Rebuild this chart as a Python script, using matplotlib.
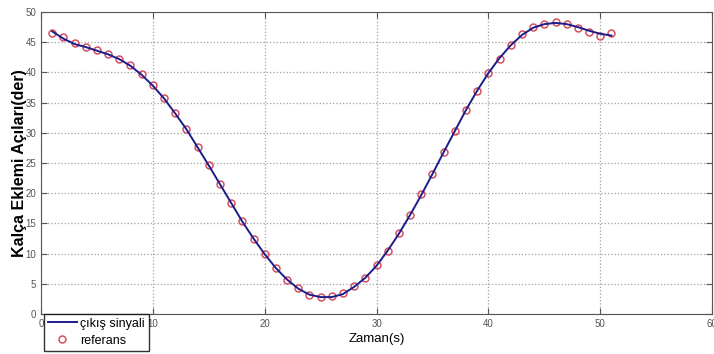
import matplotlib.pyplot as plt
import numpy as np

plt.rcParams['font.family'] = ['Liberation Sans', 'DejaVu Sans']

# reference samples (circles)
t_ref = np.arange(1, 52)
ref = [46.6, 45.8, 44.8, 44.2, 43.7, 43.0, 42.3, 41.2, 39.7, 37.9,
       35.8, 33.3, 30.7, 27.6, 24.7, 21.6, 18.4, 15.4, 12.5, 9.9,
       7.6, 5.7, 4.3, 3.2, 2.8, 2.9, 3.4, 4.6, 6.0, 8.1,
       10.5, 13.4, 16.4, 19.8, 23.2, 26.8, 30.3, 33.8, 37.0, 39.9,
       42.3, 44.5, 46.3, 47.5, 48.1, 48.3, 48.0, 47.4, 46.7, 46.1,
       46.5]

# output signal (line)
t_out = np.arange(1, 52)
out = [46.8, 45.6, 44.7, 44.2, 43.6, 43.0, 42.2, 41.1, 39.6, 37.8,
       35.7, 33.2, 30.6, 27.6, 24.6, 21.5, 18.4, 15.3, 12.5, 9.9,
       7.6, 5.7, 4.2, 3.2, 2.8, 2.8, 3.3, 4.5, 6.0, 8.0,
       10.5, 13.3, 16.4, 19.7, 23.2, 26.8, 30.3, 33.8, 37.0, 39.9,
       42.4, 44.5, 46.2, 47.4, 48.0, 48.2, 48.0, 47.5, 46.9, 46.4,
       46.1]

fig = plt.figure(figsize=(7.14, 3.54), dpi=100)
ax = fig.add_axes([0.0574, 0.113, 0.94, 0.853])

ax.plot(t_ref, ref, 'o', ms=5, mfc='none', mec='#d45060', mew=1.1,
        label='referans', zorder=2)
ax.plot(t_out, out, '-', color='#1c1c8a', lw=1.4, label='çıkış sinyali',
        zorder=3)

ax.set_xlim(0, 60)
ax.set_ylim(0, 50)
ax.set_xticks(np.arange(0, 61, 10))
ax.set_yticks(np.arange(0, 51, 5))
ax.grid(True, ls=':', color='#a0a0a0', lw=0.9)
ax.tick_params(direction='in', labelsize=7, colors='#555555', length=4,
               right=True, top=True)
for s in ax.spines.values():
    s.set_color('#555555')

ax.set_xlabel('Zaman(s)', fontsize=9.5, labelpad=3)
ax.set_ylabel('Kalça Eklemi Açıları(der)', fontsize=11.5, fontweight='bold',
              labelpad=-1)

h, l = ax.get_legend_handles_labels()
leg = ax.legend([h[1], h[0]], [l[1], l[0]], loc='upper left',
                bbox_to_anchor=(44 / 714, 40 / 354), bbox_transform=fig.transFigure,
                fontsize=9, frameon=True, fancybox=False, borderaxespad=0,
                handlelength=2.3, handletextpad=0.3, borderpad=0.3,
                labelspacing=0.4)
leg.get_frame().set_edgecolor('black')
leg.get_frame().set_linewidth(1.0)

fig.savefig('out.png', dpi=100)
